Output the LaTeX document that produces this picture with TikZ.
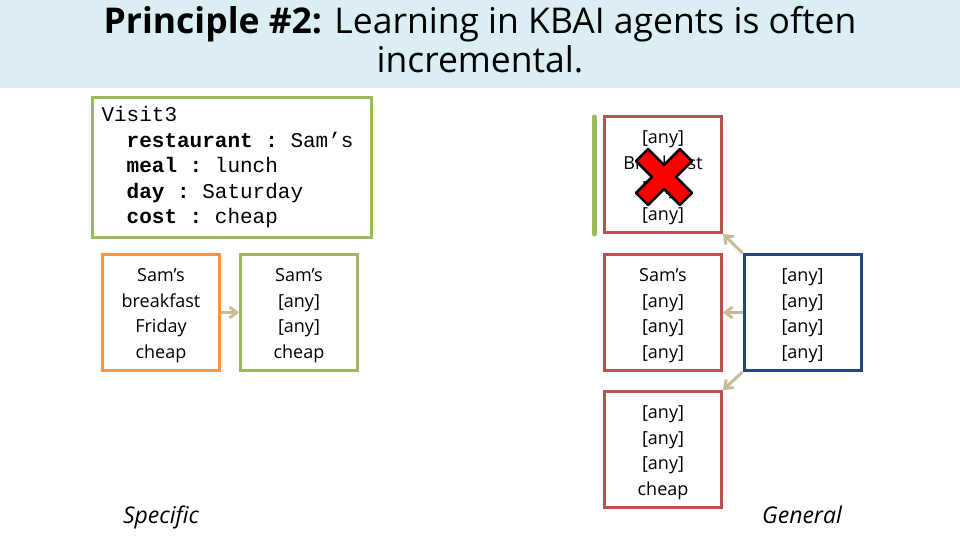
\documentclass[tikz,border=0pt]{standalone}
\usepackage{fontspec}
\setmainfont{Open Sans}
\newfontfamily\monofont{Liberation Mono}
\usetikzlibrary{arrows.meta}
\definecolor{band}{HTML}{DAEEF3}
\definecolor{olive}{HTML}{9BBB59}
\definecolor{peach}{HTML}{F79646}
\definecolor{brick}{HTML}{C0504D}
\definecolor{navy}{HTML}{1F497D}
\definecolor{tan}{HTML}{C4BD97}
\newcommand\anyval{{[any]}}
\newcommand\cellgap{\hspace*{0.6em}}
\tikzset{
  slot/.style={draw, line width=3pt, minimum width=117pt, minimum height=116pt},
  fields/.style={align=center, yshift=-3pt, font=\fontsize{18}{25.5}\selectfont},
  link/.style={-{Straight Barb[length=7pt,width=11pt]}, tan, line width=3pt},
  side/.style={anchor=base, font=\itshape\fontsize{23}{26}\selectfont}
}
\begin{document}
\begin{tikzpicture}[x=1pt, y=-1pt]
            \useasboundingbox (0,0) rectangle (960,540);
            % Title
            \fill [band] (0,0) rectangle (960,88);
            \node (title) [align=center, font=\fontsize{35.5}{39}\selectfont] at (480,40)
              {\textbf{Principle \#2:} Learning in KBAI agents is often\\incremental.};

            % Specific side
            \node (visit) [draw=olive, line width=3pt, minimum width=279pt, minimum height=140pt,
              inner xsep=9pt, text width=261pt, align=left,
              font=\monofont\fontsize{21}{25.5}\selectfont] at (232,167.5)
              {Visit3\\
               \cellgap\cellgap\textbf{restaurant\cellgap:}\cellgap Sam’s\\
               \cellgap\cellgap\textbf{meal\cellgap:}\cellgap lunch\\
               \cellgap\cellgap\textbf{day\cellgap:}\cellgap Saturday\\
               \cellgap\cellgap\textbf{cost\cellgap:}\cellgap cheap};
            \node (first) [slot, draw=peach, label={[fields]center:Sam’s\\breakfast\\Friday\\cheap}] at (161,312.5) {};
            \node (second) [slot, draw=olive, label={[fields]center:Sam’s\\\anyval\\\anyval\\cheap}] at (299,312.5) {};
            \draw [link] (first) -- (second);

            % General side
            \node (top) [slot, draw=brick, label={[fields]center:\anyval\\Breakfast\\\anyval\\\anyval}] at (663,174.5) {};
            \node (mid) [slot, draw=brick, label={[fields]center:Sam’s\\\anyval\\\anyval\\\anyval}] at (663,312.5) {};
            \node (bot) [slot, draw=brick, label={[fields]center:\anyval\\\anyval\\\anyval\\cheap}] at (663,449.5) {};
            \node (gen) [slot, draw=navy, label={[fields]center:\anyval\\\anyval\\\anyval\\\anyval}] at (802.5,312.5) {};
            \draw [link] (gen.north west) -- (top.south east);
            \draw [link] (gen.west) -- (mid.east);
            \draw [link] (gen.south west) -- (bot.north east);
            \draw [olive, line width=5pt, line cap=round] (594.5,117) -- (594.5,234);

            % Cross
            \begin{scope}[shift={(664,177)}, rotate=45]
              \filldraw [fill=red, draw=black, line width=2.5pt, line join=round]
                (8.5,8.5) -- (31,8.5) -- (31,-8.5) -- (8.5,-8.5) -- (8.5,-31) -- (-8.5,-31)
                -- (-8.5,-8.5) -- (-31,-8.5) -- (-31,8.5) -- (-8.5,8.5) -- (-8.5,31)
                -- (8.5,31) -- cycle;
            \end{scope}

            % Ends
            \node (specific) [side] at (161,523) {Specific};
            \node (general) [side] at (802,523) {General};
        \end{tikzpicture}
\end{document}
